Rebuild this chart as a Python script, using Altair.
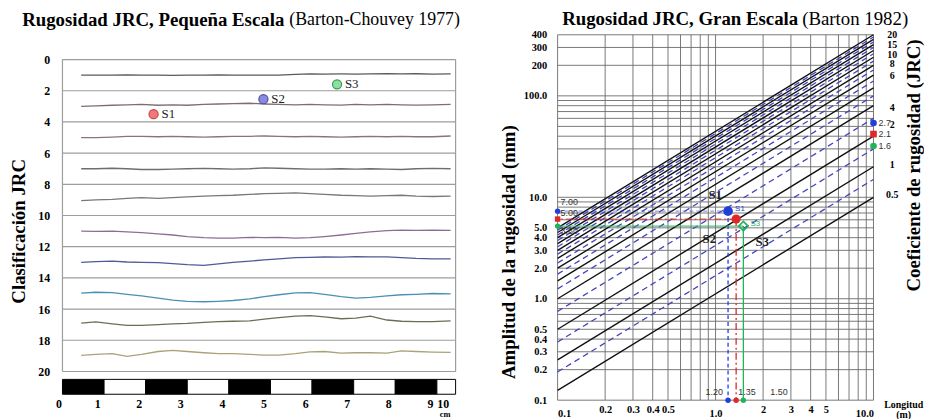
import altair as alt
import pandas as pd

SERIF = "Liberation Serif"
SANS = "Liberation Sans"

# ================= LEFT PANEL DATA (Barton-Chouvey 1977 profiles) =================
prof_x = [0.45, 0.8, 1.2, 1.55, 1.9, 2.3, 2.65, 3.0, 3.4, 3.75, 4.1, 4.5,
          4.85, 5.2, 5.6, 5.95, 6.3, 6.7, 7.05, 7.4, 7.8, 8.15, 8.5, 8.9, 9.33]
prof_01 = [1.0, 1.0, 1.0, 0.99, 1.0, 1.0, 1.01, 1.0, 1.0, 0.99, 1.0, 1.0, 1.0,
           1.0, 0.95, 0.92, 0.93, 0.92, 0.93, 0.92, 0.9, 0.92, 0.91, 0.93, 0.92]
prof_03 = [3.0, 2.97, 2.93, 2.9, 2.88, 2.93, 2.9, 2.93, 2.88, 2.85, 2.83, 2.8, 2.85,
           2.88, 2.9, 2.87, 2.9, 2.92, 2.88, 2.9, 2.87, 2.9, 2.92, 2.9, 2.88]
prof_05 = [5.0, 5.0, 4.97, 4.93, 4.92, 4.95, 4.93, 4.95, 4.97, 4.95, 4.93, 4.92, 4.9,
           4.93, 4.95, 4.93, 4.95, 4.97, 4.95, 4.93, 4.95, 4.93, 4.95, 4.95, 4.9]
prof_07 = [7.0, 7.0, 6.97, 7.0, 7.05, 7.05, 7.03, 7.0, 6.98, 7.0, 7.02, 7.0, 6.95,
           6.97, 7.0, 7.02, 7.03, 7.0, 7.02, 7.0, 7.02, 7.05, 7.0, 6.98, 7.0]
prof_09 = [9.05, 9.0, 8.97, 8.9, 8.85, 8.9, 8.85, 8.8, 8.75, 8.72, 8.7, 8.65, 8.6,
           8.58, 8.55, 8.6, 8.65, 8.7, 8.72, 8.75, 8.72, 8.7, 8.75, 8.78, 8.75]
prof_11 = [11.0, 11.02, 11.0, 11.05, 11.1, 11.18, 11.25, 11.35, 11.42, 11.45, 11.45, 11.4, 11.42,
           11.4, 11.45, 11.42, 11.35, 11.25, 11.15, 11.05, 10.97, 10.93, 10.95, 10.93, 10.95]
prof_13 = [13.0, 12.95, 12.93, 12.98, 13.0, 13.02, 13.08, 13.15, 13.2, 13.1, 13.0, 12.92, 12.85,
           12.78, 12.7, 12.68, 12.66, 12.67, 12.63, 12.65, 12.65, 12.7, 12.75, 12.78, 12.78]
prof_15 = [14.98, 14.92, 14.95, 15.05, 15.15, 15.3, 15.42, 15.5, 15.53, 15.5, 15.45, 15.35, 15.2,
           15.08, 14.96, 14.95, 15.05, 15.2, 15.3, 15.25, 15.15, 15.08, 15.05, 15.0, 15.02]
prof_17 = [16.9, 16.82, 16.95, 17.05, 17.05, 17.0, 16.95, 16.92, 16.85, 16.8, 16.78, 16.75, 16.65,
           16.55, 16.45, 16.42, 16.5, 16.62, 16.58, 16.45, 16.7, 16.78, 16.8, 16.8, 16.75]
prof_19 = [18.97, 18.9, 18.86, 19.03, 18.9, 18.72, 18.65, 18.72, 18.8, 18.86, 18.86, 18.9, 18.95,
           18.95, 18.85, 18.74, 18.72, 18.82, 18.8, 18.8, 18.83, 18.68, 18.72, 18.76, 18.78]
prof_series = [prof_01, prof_03, prof_05, prof_07, prof_09,
               prof_11, prof_13, prof_15, prof_17, prof_19]
prof_names = ["0-2", "2-4", "4-6", "6-8", "8-10", "10-12", "12-14", "14-16", "16-18", "18-20"]
prof_colors = ["#5a5a5a", "#7d6f70", "#8c7375", "#6e6e6e", "#77777d",
               "#8a6f95", "#4f5a96", "#4b8fb5", "#6d6d55", "#aaa27a"]

left_grid = [0, 2, 4, 6, 8, 10, 12, 14, 16, 18, 20]
left_frame_x = [0, 9.45]
bar_start = [0, 1, 2, 3, 4, 5, 6, 7, 8, 9]
bar_end = [1, 2, 3, 4, 5, 6, 7, 8, 9, 9.45]
bar_fill = ["black", "white"] * 5
lx_ticks = [0, 1, 2, 3, 4, 5, 6, 7, 8, 9, 9.45]
lx_labels = ["0", "1", "2", "3", "4", "5", "6", "7", "8", "9", "10"]

ls_names = ["S1", "S2", "S3"]
ls_x = [2.19, 4.83, 6.6]
ls_y = [3.5, 2.54, 1.59]
ls_fill = ["#f07878", "#8a8ae0", "#8fe0a0"]
ls_stroke = ["#c84848", "#5050a8", "#3a9a5a"]

# ================= RIGHT PANEL DATA (Barton 1982) =================
grid_L = [0.1, 0.2, 0.3, 0.4, 0.5, 0.6, 0.7, 0.8, 0.9, 1, 2, 3, 4, 5, 6, 7, 8, 9, 10]
grid_a = [0.1, 0.2, 0.3, 0.4, 0.5, 0.6, 0.7, 0.8, 0.9, 1, 2, 3, 4, 5, 6, 7, 8, 9,
          10, 20, 30, 40, 50, 60, 70, 80, 90, 100, 200, 300, 400]
xt_vals = [0.1, 0.2, 0.3, 0.4, 0.5, 1, 2, 3, 4, 5, 10]
xt_labs = ["0.1", "0.2", "0.3", "0.4", "0.5", "1.0", "2", "3", "4", "5", "10.0"]
yt_vals = [0.1, 0.2, 0.3, 0.4, 0.5, 1, 2, 3, 4, 5, 10, 100, 200, 300, 400]
yt_labs = ["0.1", "0.2", "0.3", "0.4", "0.5", "1.0", "2.0", "3.0", "4.0", "5.0",
           "10.0", "100.0", "200", "300", "400"]

L_ends = [0.1, 10]
solid_jrc = [0.5, 1, 2, 4, 6, 8, 10, 12, 14, 16, 18, 20]
solid_a_start = [0.125, 0.25, 0.5, 1.0, 1.5, 2.0, 2.5, 3.0, 3.5, 4.0, 4.5, 5.0]
solid_a_end = [10, 20, 40, 80, 120, 160, 200, 240, 280, 320, 360, 400]
dash_jrc = [0.75, 1.5, 3, 5, 7, 9, 11, 13, 15, 17, 19]
dash_a_start = [0.19, 0.375, 0.75, 1.25, 1.75, 2.25, 2.75, 3.25, 3.75, 4.25, 4.75]
dash_a_end = [15, 30, 60, 100, 140, 180, 220, 260, 300, 340, 380]

samp_name = ["S1", "S2", "S3"]
samp_L = [1.20, 1.35, 1.50]
samp_a = [7.3, 6.1, 5.2]
samp_a_txt = ["7.00", "5.00", "3.60"]
samp_L_txt = ["1.20", "1.35", "1.50"]
samp_jrc_txt = ["2.7", "2.1", "1.6"]
samp_jrc_a = [54, 42, 32]
samp_color = ["#1f3fd8", "#e02828", "#22b35a"]

jrc_lab = ["20", "15", "10", "8", "6", "4", "2", "1", "0.5"]
jrc_lab_a = [400, 320, 255, 205, 158, 76, 51, 20.6, 10.5]


def label_expr(vals, labs):
    e = "''"
    for v, l in reversed(list(zip(vals, labs))):
        e = f"datum.value == {v} ? '{l}' : ({e})"
    return e


# ================= LEFT PANEL =================
W_L, H_L = 397, 363
Y_MIN, Y_MAX = -1.59, 21.46


def ypx(v):
    return round((v - Y_MIN) / (Y_MAX - Y_MIN) * H_L)


X_L = alt.X("x:Q", scale=alt.Scale(domain=[0, 9.45], nice=False, zero=False),
            axis=alt.Axis(values=lx_ticks, labelExpr=label_expr(lx_ticks, lx_labels),
                          domain=False, ticks=False, grid=False, labelPadding=4,
                          labelOffset=-7, labelOverlap=False,
                          labelFont=SERIF, labelFontWeight="bold", labelFontSize=12,
                          labelColor="black",
                          title="cm", titleFont=SERIF, titleFontWeight="bold", titleFontSize=8.5,
                          titleX=386, titleY=15, titleBaseline="top", titleAlign="center"))
Y_L = alt.Y("y:Q", scale=alt.Scale(domain=[Y_MIN, Y_MAX], nice=False, zero=False, reverse=True),
            axis=alt.Axis(values=left_grid, domain=False, ticks=False, grid=False,
                          labelPadding=13, labelFont=SERIF, labelFontWeight="bold",
                          labelFontSize=12, labelColor="black",
                          title="Clasificación JRC", titleFont=SERIF, titleFontWeight="bold",
                          titleFontSize=19, titlePadding=9, titleColor="black", titleY=198))

prof_rows = []
for name, col, ser in zip(prof_names, prof_colors, prof_series):
    for xv, yv in zip(prof_x, ser):
        prof_rows.append({"row": name, "col": col, "x": xv, "y": yv})
prof_df = pd.DataFrame(prof_rows)

l_grid = alt.Chart(pd.DataFrame({"y": left_grid})).mark_rule(
    color="#9d9d9d", strokeWidth=1.2).encode(y=Y_L, x=alt.value(0), x2=alt.value(W_L))
l_frame = alt.Chart(pd.DataFrame({"x": left_frame_x})).mark_rule(
    color="#9d9d9d", strokeWidth=1.2).encode(x=X_L, y=alt.value(ypx(0)), y2=alt.value(ypx(20)))
l_prof = alt.Chart(prof_df).mark_line(strokeWidth=1.3).encode(
    x=X_L, y=Y_L, detail="row:N", color=alt.Color("col:N", scale=None))
ls_df = pd.DataFrame({"name": ls_names, "x": ls_x, "y": ls_y,
                      "fill": ls_fill, "stroke": ls_stroke})
l_pts = alt.Chart(ls_df).mark_point(filled=True, size=85, opacity=1, strokeWidth=1.2).encode(
    x=X_L, y=Y_L, fill=alt.Fill("fill:N", scale=None), stroke=alt.Stroke("stroke:N", scale=None))
l_pts_lab = alt.Chart(ls_df).mark_text(align="left", dx=8, font=SERIF, fontSize=13,
                                       color="#222").encode(x=X_L, y=Y_L, text="name:N")
bar_df = pd.DataFrame({"x": bar_start, "x2": bar_end, "fill": bar_fill})
l_bar = alt.Chart(bar_df).mark_rect(stroke="black", strokeWidth=1).encode(
    x=X_L, x2="x2:Q", y=alt.value(ypx(20.5)), y2=alt.value(H_L),
    color=alt.Color("fill:N", scale=None))
l_title1 = alt.Chart(pd.DataFrame({"t": ["Rugosidad JRC, Pequeña Escala"]})).mark_text(
    align="right", baseline="middle", font=SERIF, fontWeight="bold", fontSize=19,
    color="black").encode(x=alt.value(224), y=alt.value(-15), text="t:N")
l_title2 = alt.Chart(pd.DataFrame({"t": ["(Barton-Chouvey 1977)"]})).mark_text(
    align="left", baseline="middle", font=SERIF, fontSize=18,
    color="black").encode(x=alt.value(229), y=alt.value(-15), text="t:N")

left = alt.layer(l_grid, l_frame, l_bar, l_prof, l_pts, l_pts_lab, l_title1, l_title2
                 ).properties(width=W_L, height=H_L)

# ================= RIGHT PANEL =================
W_R, H_R = 319, 369
X_R = alt.X("L:Q", scale=alt.Scale(type="log", domain=[0.1, 10], nice=False),
            axis=alt.Axis(values=xt_vals, labelExpr=label_expr(xt_vals, xt_labs),
                          domain=False, ticks=False, grid=False,
                          labelPadding={"condition": {"test": "datum.value == 0.1 || datum.value == 1 || datum.value == 10",
                                                      "value": 8}, "value": 4},
                          labelOverlap=False, labelFont=SERIF, labelFontWeight="bold",
                          labelFontSize=10.5, labelColor="black",
                          title=["Longitud", "(m)"], titleFont=SERIF, titleFontWeight="bold",
                          titleFontSize=10, titleLineHeight=10.5, titleX=349, titleY=-1,
                          titleBaseline="top", titleAlign="center", titleColor="black"))
Y_R = alt.Y("a:Q", scale=alt.Scale(type="log", domain=[0.1, 400], nice=False),
            axis=alt.Axis(values=yt_vals, labelExpr=label_expr(yt_vals, yt_labs),
                          domain=False, ticks=False, grid=False, labelPadding=11,
                          labelOverlap=False, labelFont=SERIF, labelFontWeight="bold",
                          labelFontSize=10.5, labelColor="black",
                          title="Amplitud de la rugosidad (mm)", titleFont=SERIF,
                          titleFontWeight="bold", titleFontSize=19, titlePadding=5,
                          titleColor="black", titleY=219))

r_vgrid = alt.Chart(pd.DataFrame({"L": grid_L})).mark_rule(
    color="#6a6a6a", strokeWidth=0.9).encode(x=X_R, y=alt.value(0), y2=alt.value(H_R))
r_hgrid = alt.Chart(pd.DataFrame({"a": grid_a})).mark_rule(
    color="#6a6a6a", strokeWidth=0.9).encode(y=Y_R, x=alt.value(0), x2=alt.value(W_R))


def jrc_lines(jrcs, starts, ends):
    rows = []
    for j, a0, a1 in zip(jrcs, starts, ends):
        rows.append({"jrc": j, "L": L_ends[0], "a": a0})
        rows.append({"jrc": j, "L": L_ends[1], "a": a1})
    return pd.DataFrame(rows)


r_solid = alt.Chart(jrc_lines(solid_jrc, solid_a_start, solid_a_end)).mark_line(
    color="#111111", strokeWidth=1.4).encode(x=X_R, y=Y_R, detail="jrc:N")
r_dash = alt.Chart(jrc_lines(dash_jrc, dash_a_start, dash_a_end)).mark_line(
    color="#4444bb", strokeWidth=1.3, strokeDash=[6, 4]).encode(x=X_R, y=Y_R, detail="jrc:N")

dashes = [[4, 3], [7, 3, 2, 3], [1, 0]]
name_dx = [-13, -27, 19]
name_dy = [-16, 20, 16]
a_txt_dy = [-9, -6, 5]
L_txt_dx = [-14, 11, 36]
r_over = []
for i in range(3):
    d = pd.DataFrame({"L": [samp_L[i]], "a": [samp_a[i]], "a2": [0.1], "L2": [0.1],
                      "n": [samp_name[i]], "at": [samp_a_txt[i]], "lt": [samp_L_txt[i]]})
    c = samp_color[i]
    r_over.append(alt.Chart(d).mark_rule(color=c, strokeWidth=1.3, strokeDash=dashes[i]).encode(
        x=X_R, y=Y_R, y2="a2:Q"))
    r_over.append(alt.Chart(d).mark_rule(color=c, strokeWidth=1.2, strokeDash=dashes[i],
                                         opacity=0.8 if i else 0.5).encode(
        x=X_R, x2="L2:Q", y=Y_R))
    r_over.append(alt.Chart(d).mark_text(font=SERIF, fontSize=13, fontWeight="bold", color="#222",
                                         dx=name_dx[i], dy=name_dy[i]).encode(
        x=X_R, y=Y_R, text="n:N"))
    r_over.append(alt.Chart(d).mark_text(font=SANS, fontSize=9, color="#333", align="left",
                                         dy=a_txt_dy[i]).encode(
        x=alt.value(3), y=Y_R, text="at:N"))
    r_over.append(alt.Chart(d).mark_text(font=SANS, fontSize=9, color="#333",
                                         dx=L_txt_dx[i]).encode(
        x=X_R, y=alt.value(H_R - 8), text="lt:N"))

samp_df = pd.DataFrame({"n": samp_name, "L": samp_L, "a": samp_a, "c": samp_color,
                        "jt": samp_jrc_txt, "ja": samp_jrc_a,
                        "shape": ["circle", "square", "circle"]})
left_dots = alt.Chart(samp_df.assign(L=0.1)).mark_point(filled=True, size=30, opacity=1).encode(
    x=X_R, y=Y_R, color=alt.Color("c:N", scale=None), shape=alt.Shape("shape:N", scale=None))
bottom_dots = alt.Chart(samp_df.assign(a=0.1)).mark_point(filled=True, size=30, opacity=1).encode(
    x=X_R, y=Y_R, color=alt.Color("c:N", scale=None))
right_df = samp_df.assign(L=10, a=samp_df["ja"])
right_dots = alt.Chart(right_df).mark_point(filled=True, size=45, opacity=1).encode(
    x=X_R, y=Y_R, color=alt.Color("c:N", scale=None), shape=alt.Shape("shape:N", scale=None))
right_txt = alt.Chart(right_df).mark_text(font=SANS, fontSize=9, color="#333", align="left",
                                          dx=5).encode(x=X_R, y=Y_R, text="jt:N")
s_blue = alt.Chart(samp_df.iloc[[0]]).mark_point(filled=True, size=95, opacity=1).encode(
    x=X_R, y=Y_R, color=alt.Color("c:N", scale=None))
s_red = alt.Chart(samp_df.iloc[[1]]).mark_point(filled=True, size=85, opacity=1).encode(
    x=X_R, y=Y_R, color=alt.Color("c:N", scale=None))
s_green = alt.Chart(samp_df.iloc[[2]]).mark_point(filled=False, shape="diamond", size=90,
                                                   strokeWidth=1.6, opacity=1).encode(
    x=X_R, y=Y_R, color=alt.Color("c:N", scale=None))
s_small = alt.Chart(samp_df.iloc[[0, 2]]).mark_text(
    font=SANS, fontSize=8, dx=12, dy=-2).encode(
    x=X_R, y=Y_R, text="n:N", color=alt.Color("c:N", scale=None))

jrc_df = pd.DataFrame({"t": jrc_lab, "a": jrc_lab_a})
jrc_axis = alt.Chart(jrc_df).mark_text(font=SERIF, fontWeight="bold", fontSize=10,
                                       color="black", align="center").encode(
    x=alt.value(W_R + 19), y=Y_R, text="t:N")
r_title_side = alt.Chart(pd.DataFrame({"t": ["Coeficiente de rugosidad (JRC)"]})).mark_text(
    font=SERIF, fontWeight="bold", fontSize=19, color="black", angle=270,
    baseline="middle", align="center").encode(
    x=alt.value(W_R + 41), y=alt.value(132), text="t:N")
r_title1 = alt.Chart(pd.DataFrame({"t": ["Rugosidad JRC, Gran Escala"]})).mark_text(
    align="right", baseline="middle", font=SERIF, fontWeight="bold", fontSize=19,
    color="black").encode(x=alt.value(243), y=alt.value(-16), text="t:N")
r_title2 = alt.Chart(pd.DataFrame({"t": ["(Barton 1982)"]})).mark_text(
    align="left", baseline="middle", font=SERIF, fontSize=19,
    color="black").encode(x=alt.value(247), y=alt.value(-16), text="t:N")

right = alt.layer(r_vgrid, r_hgrid, r_solid, r_dash, *r_over, left_dots, bottom_dots,
                  right_dots, right_txt, s_blue, s_red, s_green, s_small, jrc_axis,
                  r_title_side, r_title1, r_title2).properties(width=W_R, height=H_R)

chart = alt.hconcat(left, right, spacing=39).configure_view(stroke=None).properties(
    padding={"left": 2, "top": 0, "right": 0, "bottom": 0}, background="white")

chart.save("out.html", embed_options={"renderer": "svg", "actions": False})
